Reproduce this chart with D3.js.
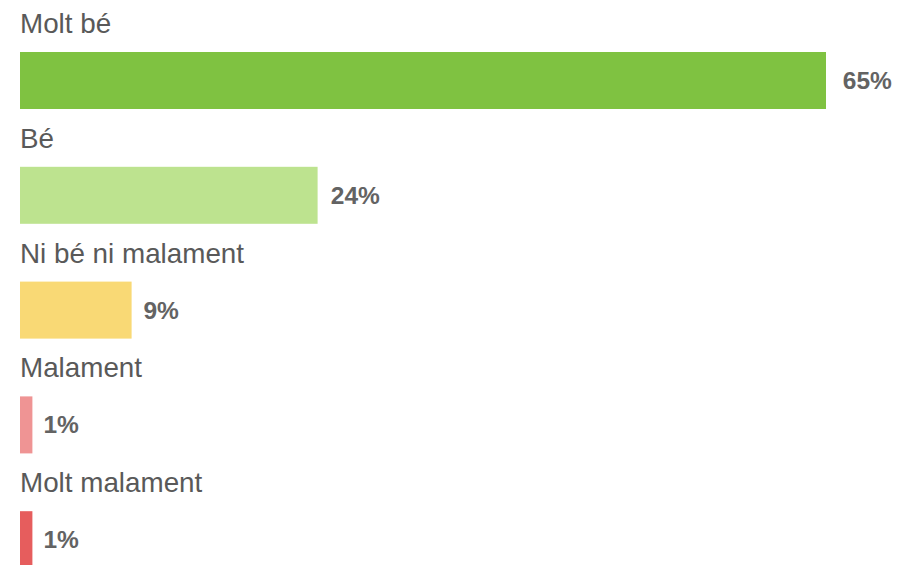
<!DOCTYPE html>
<html>
<head>
<meta charset="utf-8">
<script src="https://cdn.jsdelivr.net/npm/d3@7"></script>
<style>
	html, body { margin: 0; padding: 0; background: #fff; overflow: hidden; }
	svg { display: block; font-family: "Liberation Sans", Arial, sans-serif; }
</style>
</head>
<body>
<script>
// Data
const categories = ['Molt bé', 'Bé', 'Ni bé ni malament', 'Malament', 'Molt malament'];
const values = [65, 24, 9, 1, 1];
const colors = ['#7fc241', '#bde38f', '#f9d975', '#ef9494', '#e65d5d'];

const width = 897;
const height = 565;
const left = 20;

const svg = d3.select('body')
	.append('svg')
	.attr('width', width)
	.attr('height', height);

// Scales
const xScale = d3.scaleLinear()
	.domain([0, 100])
	.range([0, 1240]);

const yScale = d3.scaleBand()
	.domain(categories)
	.range([0, 574])
	.padding(0);

const barTop = 52;
const barHeight = 57;

const rows = svg.selectAll('.row')
	.data(categories)
	.enter().append('g')
	.attr('class', 'row')
	.attr('transform', d => `translate(${left}, ${yScale(d)})`);

// Category labels
rows.append('text')
	.attr('x', 0)
	.attr('y', 33)
	.attr('fill', '#595959')
	.style('font-size', '27.8px')
	.text(d => d);

// Bars
rows.append('rect')
	.attr('x', 0)
	.attr('y', barTop)
	.attr('width', (d, i) => xScale(values[i]))
	.attr('height', barHeight)
	.attr('fill', (d, i) => colors[i]);

// Value labels (small gap grows a little with bar length)
rows.append('text')
	.attr('x', (d, i) => xScale(values[i]) + 11 + values[i] * 0.09)
	.attr('y', barTop + barHeight / 2)
	.attr('dy', '0.35em')
	.attr('fill', '#636363')
	.style('font-size', '24.5px')
	.style('font-weight', 'bold')
	.text((d, i) => values[i] + '%');
</script>
</body>
</html>
